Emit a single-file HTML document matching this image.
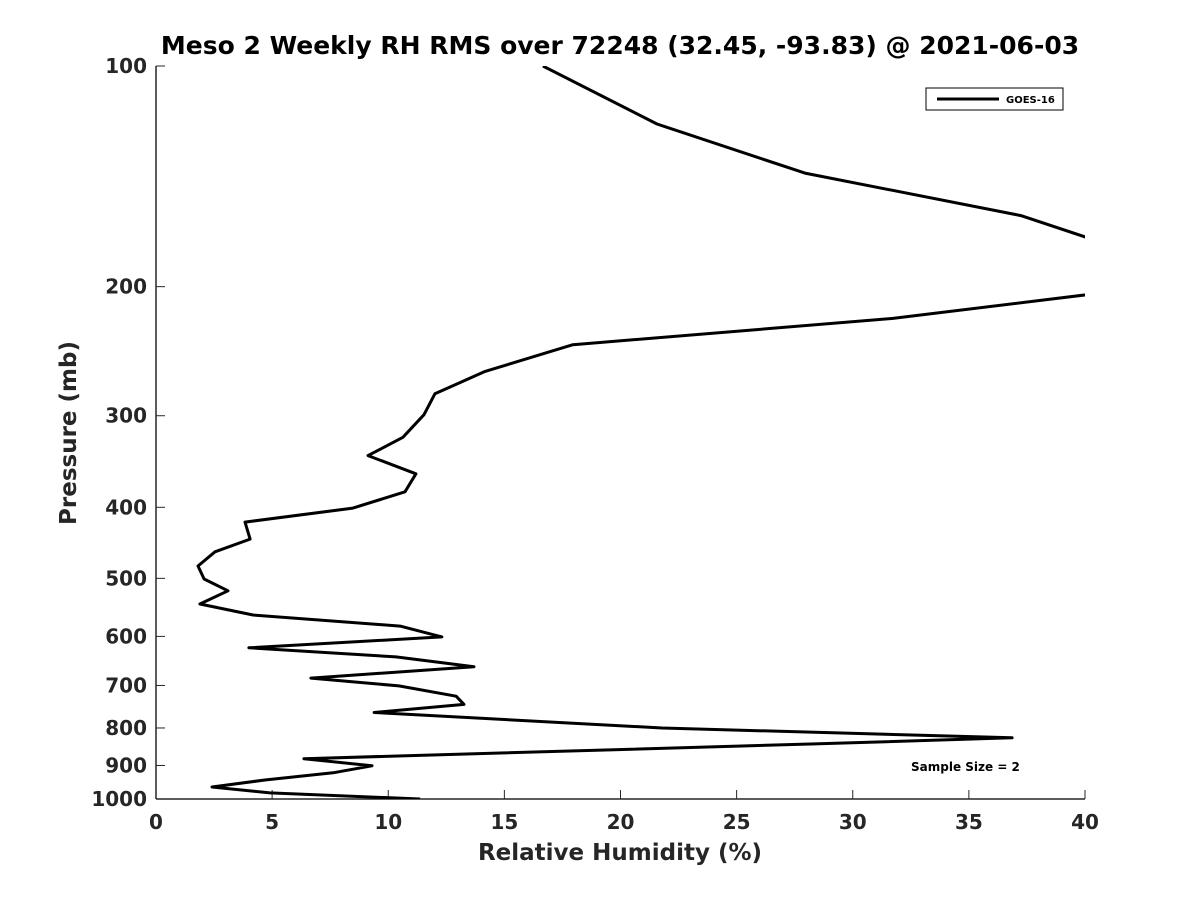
<!DOCTYPE html>
<html><head><meta charset="utf-8"><style>
body{margin:0;background:#fff;}
svg text{font-family:"DejaVu Sans","Liberation Sans",sans-serif;font-weight:bold;fill:#262626;}
</style></head><body>
<svg id="chart" width="1200" height="900" xmlns="http://www.w3.org/2000/svg">
<rect width="1200" height="900" fill="#fff"/>
<text x="620" y="54" text-anchor="middle" font-size="25" style="fill:#000">Meso 2 Weekly RH RMS over 72248 (32.45, -93.83) @ 2021-06-03</text>
<g id="axes"></g>
<defs><clipPath id="plotclip"><rect x="156" y="66" width="929" height="733"/></clipPath></defs>
<polyline id="series" fill="none" stroke="#000" stroke-width="3" stroke-linejoin="round" clip-path="url(#plotclip)"/>
<g>
<rect x="926" y="88" width="137" height="22" fill="#fff" stroke="#000" stroke-width="1"/>
<line x1="937" y1="99" x2="999" y2="99" stroke="#000" stroke-width="3"/>
<text x="1006" y="103" font-size="10" style="fill:#000">GOES-16</text>
</g>
<text x="911" y="771" font-size="12" style="fill:#000">Sample Size = 2</text>
<text x="620" y="860" text-anchor="middle" font-size="23">Relative Humidity (%)</text>
<text transform="translate(76,433) rotate(-90)" text-anchor="middle" font-size="23">Pressure (mb)</text>
</svg>
<script>
const pressures=[100,120,140,160,180,200,221,240,261,280,299,321,340,360,381,401,419,442,460,481,501,520,542,561,581,601,622,640,660,684,701,724,743,762,800,825,841,881,901,921,942,963,981,1000];
const rhValues=[16.66,21.57,27.94,37.24,42.1,42.9,31.73,17.95,14.17,12.01,11.54,10.63,9.13,11.19,10.72,8.48,3.83,4.05,2.54,1.81,2.07,3.10,1.89,4.18,10.51,12.31,4.00,10.33,13.69,6.67,10.46,12.92,13.26,9.39,21.79,36.86,28.37,6.37,9.30,7.62,4.69,2.41,4.91,11.37];
const xTicks=[0,5,10,15,20,25,30,35,40];
const yTicks=[100,200,300,400,500,600,700,800,900,1000];
const X0=156,X1=1085,Y0=66,Y1=799;
function xs(v){return X0+(v-0)/40*(X1-X0);}
function ys(p){return Y0+(Math.log10(p)-2)*(Y1-Y0);}
const NS='http://www.w3.org/2000/svg';
const axes=document.getElementById('axes');
function mk(tag,attrs){const e=document.createElementNS(NS,tag);for(const k in attrs)e.setAttribute(k,attrs[k]);return e;}
const xa=mk('line',{x1:X0,y1:Y1,x2:X1,y2:Y1,stroke:'#262626','stroke-width':1.5});


axes.appendChild(xa);
const ya=mk('line',{x1:X0,y1:Y0,x2:X0,y2:Y1,stroke:'#262626','stroke-width':1.5});


axes.appendChild(ya);
xTicks.forEach(v=>{
 const x=xs(v);
 axes.appendChild(mk('line',{x1:x,y1:Y1,x2:x,y2:Y1-9,stroke:'#262626','stroke-width':1}));
 const t=mk('text',{x:x,y:829,'text-anchor':'middle','font-size':20});
 t.textContent=v;
 
 
 axes.appendChild(t);
});
yTicks.forEach(p=>{
 const y=ys(p);
 axes.appendChild(mk('line',{x1:X0,y1:y,x2:X0+9,y2:y,stroke:'#262626','stroke-width':1}));
 const t=mk('text',{x:147,y:y+7,'text-anchor':'end','font-size':20});
 t.textContent=p;
 
 
 axes.appendChild(t);
});
document.getElementById('series').setAttribute('points',pressures.map((p,i)=>xs(rhValues[i]).toFixed(1)+','+ys(p).toFixed(1)).join(' '));
</script>
</body></html>
